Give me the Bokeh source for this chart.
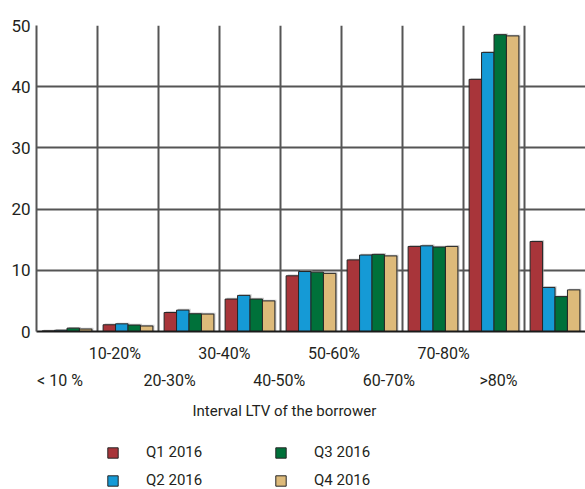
import numpy as np
from bokeh.plotting import figure
from bokeh.layouts import column
from bokeh.models import (Range1d, LinearAxis, FixedTicker, Legend, LegendItem,
                          Title, Grid)
from bokeh.embed import file_html
from bokeh.resources import INLINE

# ---- data ----
categories = ["< 10 %", "10-20%", "20-30%", "30-40%", "40-50%",
              "50-60%", "60-70%", "70-80%", ">80%"]
series_names = ["Q1 2016", "Q2 2016", "Q3 2016", "Q4 2016"]
q1_2016 = [0.1, 1.1, 3.1, 5.3, 9.1, 11.7, 13.9, 41.2, 14.7]
q2_2016 = [0.2, 1.25, 3.5, 5.9, 9.8, 12.5, 14.0, 45.6, 7.2]
q3_2016 = [0.55, 1.05, 2.9, 5.3, 9.7, 12.6, 13.8, 48.5, 5.7]
q4_2016 = [0.4, 0.9, 2.85, 5.0, 9.5, 12.35, 13.9, 48.3, 6.8]
y_ticks = [0, 10, 20, 30, 40, 50]
x_title = "Interval LTV of the borrower"

# ---- styles ----
colors = ["#A8353A", "#159AD6", "#00713A", "#DDBA7A"]
FONT = "Roboto"
TXT = "#231f20"
GRID = "#555555"
EDGE = "#262626"

n = len(categories)
series = [q1_2016, q2_2016, q3_2016, q4_2016]
bar_w = 0.204
offsets = [(k - 1.5) * bar_w for k in range(4)]
centers = np.arange(n) + 0.5

p = figure(width=585, height=432, output_backend="svg", toolbar_location=None,
           x_range=Range1d(0, n), y_range=Range1d(0, 50),
           x_axis_location=None,
           min_border_left=36, min_border_right=0, min_border_top=25,
           min_border_bottom=101)
p.outline_line_color = None
p.background_fill_color = "white"
p.border_fill_color = "white"

# y axis
p.yaxis.ticker = FixedTicker(ticks=y_ticks)
p.yaxis.major_label_text_font = FONT
p.yaxis.major_label_text_font_size = "17px"
p.yaxis.major_label_text_color = TXT
p.yaxis.major_tick_out = 0
p.yaxis.major_tick_in = 0
p.yaxis.minor_tick_line_color = None
p.yaxis.axis_line_color = GRID
p.yaxis.axis_line_width = 2
p.yaxis.major_label_standoff = 6

# grids
p.ygrid.ticker = FixedTicker(ticks=y_ticks[1:])
p.ygrid.grid_line_color = GRID
p.ygrid.grid_line_width = 2
p.xgrid.visible = False
p.add_layout(Grid(dimension=0, ticker=FixedTicker(ticks=list(range(1, n))),
                  grid_line_color=GRID, grid_line_width=2))

# bars (with a faint drop shadow)
for k, vals in enumerate(series):
    p.vbar(x=centers + offsets[k] + 0.025, top=np.array(vals) + 0.2,
           width=bar_w, bottom=0, fill_color="#a0a0a0", fill_alpha=0.6,
           line_color=None)
for k, vals in enumerate(series):
    p.vbar(x=centers + offsets[k], top=vals, width=bar_w, bottom=0,
           fill_color=colors[k], line_color=EDGE, line_width=1)

# staggered category labels on their own scale
p.extra_x_ranges = {"lab": Range1d(-0.4288, 9.589)}
odd = [i for i in range(n) if i % 2 == 1]
even = [i for i in range(n) if i % 2 == 0]

def label_axis(ticks, standoff, line):
    ax = LinearAxis(x_range_name="lab", ticker=FixedTicker(ticks=ticks),
                    major_label_overrides={i: categories[i] for i in ticks})
    ax.major_tick_line_color = None
    ax.minor_tick_line_color = None
    ax.major_tick_out = 0
    ax.major_tick_in = 0
    ax.major_label_standoff = standoff
    ax.major_label_text_font = FONT
    ax.major_label_text_font_size = "16px"
    ax.major_label_text_color = TXT
    if line:
        ax.axis_line_color = "#1a1a1a"
        ax.axis_line_width = 2
    else:
        ax.axis_line_color = None
    return ax

p.add_layout(label_axis(odd, 12, True), "below")
p.add_layout(label_axis(even, 5, False), "below")

# x title
p.add_layout(Title(text=x_title, align="left", offset=156, standoff=14,
                   text_font=FONT, text_font_size="15px",
                   text_font_style="normal", text_color=TXT), "below")

# legend in its own strip under the chart (its bars are kept out of view)
lg = figure(width=585, height=57, output_backend="svg", toolbar_location=None,
            x_axis_location=None, y_axis_location=None,
            x_range=Range1d(-101, -100), y_range=Range1d(-2, -1),
            min_border=0, min_border_left=0, min_border_right=0,
            min_border_top=0, min_border_bottom=0)
lg.outline_line_color = None
lg.grid.visible = False
items = []
for k, vals in enumerate(series):
    r = lg.vbar(x=centers + offsets[k], top=vals, bottom=0, width=bar_w,
                fill_color=colors[k], line_color=EDGE, line_width=1)
    items.append(LegendItem(label=series_names[k], renderers=[r]))
legend = Legend(items=items, location=(70, 0), orientation="vertical",
                nrows=2, glyph_width=13, glyph_height=13, label_standoff=27,
                label_width=118, label_height=18, spacing=10, padding=0,
                margin=0, border_line_color=None, background_fill_alpha=0,
                label_text_font=FONT, label_text_font_size="15px",
                label_text_color=TXT)
lg.add_layout(legend)

layout = column(p, lg, spacing=0)
open("out.html", "w").write(file_html(layout, INLINE))
